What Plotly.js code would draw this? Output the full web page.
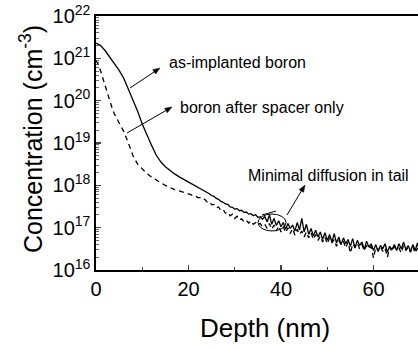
<!DOCTYPE html>
<html>
<head>
<meta charset="utf-8">
<script src="https://cdn.plot.ly/plotly-3.0.1.min.js"></script>
<style>html,body{margin:0;padding:0;background:#fff;overflow:hidden}#chart{width:418px;height:348px}</style>
</head>
<body>
<div id="chart"></div>
<script>
// as-implanted boron (solid)
const depthImplanted = [0,1,2,3,4,5,6,7,8,9,10,11,12,13,14,15,16,17,18,19,20,21,22,
 22.5,23,23.5,24,24.5,25,25.5,26,26.5,27,27.5,28,28.5,29,29.5,30,30.5,31,31.5,32,32.5,33,33.5,34,34.5,35,35.5,36,
 36.5,37,37.5,38,38.5,39,39.5,40,40.5,41,41.5,42,42.5,43,43.5,44,44.5,45,45.5,46,46.5,47,47.5,48,48.5,49,49.5,50,
 50.5,51,51.5,52,52.5,53,53.5,54,54.5,55,55.5,56,56.5,57,57.5,58,58.5,59,59.5,60,60.5,61,61.5,62,62.5,63,63.5,64,
 64.5,65,65.5,66,66.5,67,67.5,68,68.5,69,69.5,70];
const concImplanted = [2.29e21,2.0e21,1.51e21,1.07e21,7.4e20,5.2e20,3.4e20,1.9e20,1.05e20,5.6e19,2.8e19,1.5e19,8.9e18,5.2e18,3.6e18,2.75e18,2.24e18,1.86e18,1.58e18,1.38e18,1.2e18,1.05e18,9.12e17,
 8.51e17,7.94e17,7.41e17,6.76e17,6.31e17,5.75e17,5.50e17,4.90e17,4.68e17,4.17e17,3.98e17,3.63e17,3.55e17,3.09e17,3.02e17,2.75e17,2.82e17,2.51e17,2.57e17,2.29e17,2.34e17,2.09e17,2.14e17,1.91e17,2.04e17,1.74e17,1.82e17,1.58e17,
 1.82e17,1.38e17,2.00e17,1.20e17,1.66e17,1.12e17,1.45e17,1.05e17,1.32e17,9.12e16,1.26e17,9.55e16,1.15e17,8.32e16,1.32e17,8.91e16,1.66e17,7.94e16,1.20e17,6.92e16,9.55e16,6.31e16,8.71e16,6.03e16,7.94e16,5.25e16,7.59e16,5.01e16,
 6.92e16,4.57e16,7.24e16,4.37e16,6.03e16,3.98e16,5.75e16,4.17e16,5.25e16,3.63e16,5.50e16,3.31e16,5.01e16,3.80e16,4.57e16,3.02e16,4.79e16,3.47e16,4.17e16,2.88e16,3.98e16,2.75e16,3.80e16,3.16e16,4.17e16,2.63e16,3.63e16,3.02e16,
 3.98e16,2.88e16,4.17e16,3.16e16,4.57e16,3.02e16,3.80e16,2.75e16,3.98e16,2.88e16,4.37e16,2.63e16];

// boron after spacer only (dashed)
const depthSpacer = [0,0.5,1,1.5,2,2.5,3,3.5,4,4.5,5,5.5,6,7,8,9,10,11,12,13,14,15,16,17,18,19,20,
 20.5,21,21.5,22,22.5,23,23.5,24,24.5,25,25.5,26,26.5,27,27.5,28,28.5,29,29.5,30,30.5,31,31.5,32,32.5,33,33.5,34,34.5,35,35.5,36,
 36.5,37,37.5,38,38.5,39,39.5,40,40.5,41,41.5,42,42.5,43,43.5,44,44.5,45,45.5,46,46.5,47,47.5,48,48.5,49,49.5,50,
 50.5,51,51.5,52,52.5,53,53.5,54,54.5,55,55.5,56,56.5,57,57.5,58,58.5,59,59.5,60,60.5,61,61.5,62,62.5,63,63.5,64,
 64.5,65,65.5,66,66.5,67,67.5,68,68.5,69,69.5,70];
const concSpacer = [8.9e20,7.1e20,5.0e20,3.3e20,2.24e20,1.5e20,1.0e20,6.6e19,4.8e19,3.8e19,3.0e19,2.4e19,1.86e19,1.0e19,5.0e18,3.16e18,2.4e18,1.9e18,1.58e18,1.32e18,1.15e18,1.0e18,8.9e17,7.9e17,7.4e17,6.9e17,6.3e17,
 6.03e17,5.62e17,5.62e17,5.13e17,5.13e17,4.57e17,4.68e17,4.07e17,4.17e17,3.47e17,3.55e17,2.95e17,3.09e17,2.57e17,2.69e17,2.19e17,2.34e17,1.91e17,2.09e17,1.66e17,1.86e17,1.51e17,1.62e17,1.38e17,1.51e17,1.29e17,1.45e17,1.20e17,1.32e17,1.15e17,1.26e17,1.05e17,
 1.20e17,9.55e16,1.26e17,9.12e16,1.15e17,8.32e16,1.10e17,7.94e16,1.05e17,7.59e16,1.00e17,7.24e16,9.55e16,6.61e16,9.12e16,6.92e16,8.32e16,6.03e16,7.94e16,5.75e16,7.59e16,5.25e16,6.92e16,5.01e16,6.31e16,4.57e16,6.03e16,4.17e16,
 5.75e16,4.37e16,5.25e16,3.63e16,5.01e16,3.98e16,4.79e16,3.31e16,4.57e16,2.51e16,4.17e16,3.47e16,4.37e16,3.16e16,3.98e16,2.88e16,3.80e16,3.16e16,3.63e16,1.91e16,3.47e16,2.88e16,3.63e16,2.75e16,3.31e16,2.00e16,3.47e16,2.75e16,
 3.63e16,3.02e16,3.31e16,2.51e16,3.80e16,2.88e16,3.47e16,2.63e16,3.63e16,2.51e16,3.31e16,2.75e16];

const xTickVals = [0, 20, 40, 60];
const yTickVals = [1e16,1e17,1e18,1e19,1e20,1e21,1e22];
const yTickText = ['10<sup>16</sup>','10<sup>17</sup>','10<sup>18</sup>','10<sup>19</sup>','10<sup>20</sup>','10<sup>21</sup>','10<sup>22</sup>'];
const labels = ['as-implanted boron','boron after spacer only','Minimal diffusion in tail'];
const xTitle = 'Depth (nm)';
const yTitle = 'Concentration (cm<sup>-3</sup>)';

const FONT = 'Liberation Sans, Arial, Helvetica, sans-serif';
const L = 96, R = 418, T = 16, B = 270;
const px = x => (x - L) / (R - L);
const py = y => (B - y) / (B - T);

const traces = [
  {x: depthImplanted, y: concImplanted, mode: 'lines', line: {color: '#000', width: 1.3}, name: labels[0]},
  {x: depthSpacer, y: concSpacer, mode: 'lines', line: {color: '#000', width: 1.3, dash: '5px,4px'}, name: labels[1]}
];

// annotation arrows (tail pixel -> head pixel)
function arrow(tx, ty, hx, hy) {
  const dx = hx - tx, dy = hy - ty, len = Math.hypot(dx, dy);
  const ux = dx / len, uy = dy / len, hl = 7, hw = 2.6;
  const bx = hx - ux * hl, by = hy - uy * hl;
  const p1 = [bx - uy * hw, by + ux * hw], p2 = [bx + uy * hw, by - ux * hw];
  return [
    {type: 'line', xref: 'paper', yref: 'paper', x0: px(tx), y0: py(ty), x1: px(bx), y1: py(by), line: {color: '#000', width: 1}},
    {type: 'path', xref: 'paper', yref: 'paper',
     path: `M${px(hx)},${py(hy)} L${px(p1[0])},${py(p1[1])} L${px(p2[0])},${py(p2[1])} Z`,
     fillcolor: '#000', line: {color: '#000', width: 0.5}}
  ];
}

const layout = {
  width: 418, height: 348,
  margin: {l: L, r: 418 - R, t: T, b: 348 - B, pad: 0},
  paper_bgcolor: '#fff', plot_bgcolor: '#fff',
  showlegend: false,
  font: {family: FONT, color: '#000'},
  xaxis: {
    range: [0, 20 * (R - L) / 92.5], tickvals: xTickVals, ticks: 'inside', ticklen: 5, tickwidth: 1.2,
    minor: {tickvals: [10, 30, 50], ticks: 'inside', ticklen: 3, tickwidth: 1},
    showline: true, linecolor: '#000', linewidth: 1.6, mirror: true, showgrid: false, zeroline: false,
    tickfont: {size: 20, family: FONT}
  },
  yaxis: {
    type: 'log', range: [16, 22], tickvals: yTickVals, ticktext: yTickText,
    ticks: 'inside', ticklen: 5, tickwidth: 1.2,
    minor: {ticks: 'inside', ticklen: 2.5, tickwidth: 0.8, dtick: 'D1'},
    showline: true, linecolor: '#000', linewidth: 1.6, mirror: false, showgrid: false, zeroline: false,
    tickfont: {size: 20, family: FONT}
  },
  annotations: [
    {xref: 'paper', yref: 'paper', x: px(265), y: py(328), xanchor: 'center', yanchor: 'middle', text: xTitle, showarrow: false, font: {size: 26}},
    {xref: 'paper', yref: 'paper', x: px(31), y: py(139), xanchor: 'center', yanchor: 'middle', textangle: -90, text: yTitle, showarrow: false, font: {size: 25}},
    {xref: 'paper', yref: 'paper', x: px(167), y: py(62), xanchor: 'left', yanchor: 'middle', text: labels[0], showarrow: false, font: {size: 16}},
    {xref: 'paper', yref: 'paper', x: px(178), y: py(107), xanchor: 'left', yanchor: 'middle', text: labels[1], showarrow: false, font: {size: 16}},
    {xref: 'paper', yref: 'paper', x: px(246), y: py(175), xanchor: 'left', yanchor: 'middle', text: labels[2], showarrow: false, font: {size: 16}}
  ],
  shapes: [].concat(
    arrow(130, 88, 160, 68),
    arrow(127, 133, 172, 107),
    arrow(287, 215, 305, 185),
    [
      {type: 'circle', xref: 'paper', yref: 'paper', x0: px(258), x1: px(286), y0: py(231), y1: py(214), line: {color: '#000', width: 1}},
      {type: 'line', xref: 'paper', yref: 'paper', x0: px(262), x1: px(276), y0: py(215), y1: py(211), line: {color: '#000', width: 1}}
    ]
  )
};

Plotly.newPlot('chart', traces, layout, {staticPlot: true, displayModeBar: false});
</script>
</body>
</html>
